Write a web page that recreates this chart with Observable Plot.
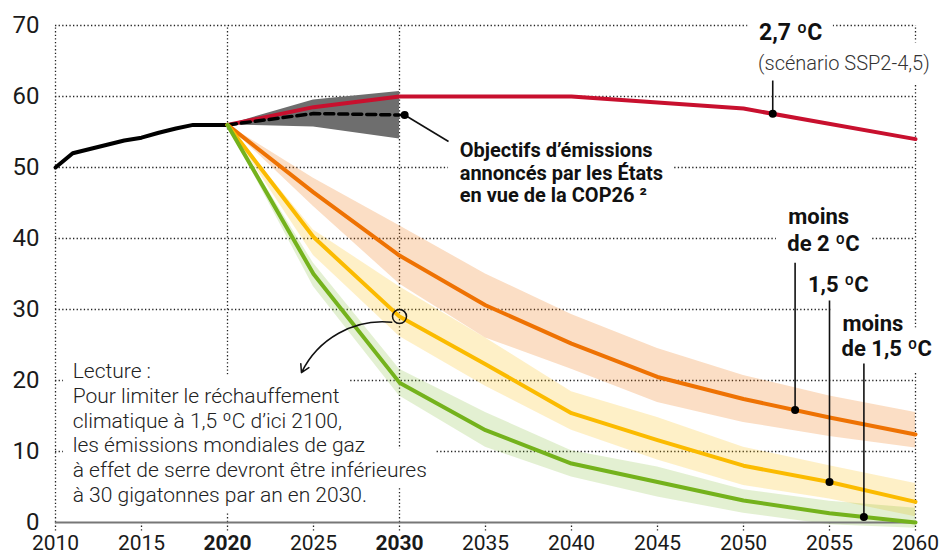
<!DOCTYPE html>
<html>
<head>
<meta charset="utf-8">
<script src="https://cdn.jsdelivr.net/npm/d3@7"></script>
<script src="https://cdn.jsdelivr.net/npm/@observablehq/plot@0.6"></script>
<style>
  html, body { margin: 0; padding: 0; background: #fff; }
  #chart { width: 943px; height: 554px; }
</style>
</head>
<body>
<div id="chart"></div>
<script>
// ---------- data ----------
const histYears = [2010, 2011, 2012, 2013, 2014, 2015, 2016, 2017, 2018, 2019, 2020];
const histValues = [50, 52, 52.6, 53.2, 53.8, 54.2, 54.9, 55.5, 56, 56, 56];

const sspYears = [2020, 2025, 2030, 2040, 2050, 2060];
const sspValues = [56, 58.5, 60, 60, 58.3, 54];

const ndcYears = [2020, 2025, 2030];
const ndcMid = [56, 57.6, 57.4];
const ndcLow = [56, 55.7, 54];
const ndcHigh = [56, 59.5, 60.7];

const pathYears = [2020, 2025, 2030, 2035, 2040, 2045, 2050, 2055, 2060];
const below2 = [56, 46.5, 37.6, 30.6, 25.2, 20.5, 17.4, 14.8, 12.4];
const below2Low = [56, 44.5, 33.6, 26, 21.6, 16.9, 14.1, 12.1, 10.5];
const below2High = [56, 48.5, 41.8, 35, 29.3, 24.5, 20.7, 17.8, 15.5];
const c15 = [56, 40.2, 29, 22.3, 15.4, 11.6, 8, 5.7, 2.9];
const c15Low = [56, 37.6, 26.2, 19.2, 13, 8.8, 5.2, 3.3, 0.8];
const c15High = [56, 41.2, 33.2, 26, 18.4, 14.8, 10.6, 8, 5.5];
const below15 = [56, 35, 19.7, 13, 8.3, 5.7, 3.1, 1.3, 0];
const below15Low = [56, 33.2, 17.8, 10.6, 6.4, 3.6, 1.3, -0.3, -0.8];
const below15High = [56, 36.5, 21.6, 15.5, 10.1, 7.8, 4.6, 3, 2];

const yTicks = [0, 10, 20, 30, 40, 50, 60, 70];
const xTicksNormal = [2010, 2015, 2025, 2035, 2040, 2045, 2050, 2055, 2060];
const xTicksBold = [2020, 2030];
const xGrid = [2010, 2020, 2030, 2060];
const xMinor = [2010, 2015, 2020, 2025, 2030, 2035, 2040, 2045, 2050, 2055, 2060];

// ---------- helpers ----------
const rows = (xs, ys, lo, hi) => xs.map((x, i) => ({x, y: ys[i], lo: lo ? lo[i] : null, hi: hi ? hi[i] : null}));
const interp = (xs, ys, t) => {
  for (let i = 0; i < xs.length - 1; i++) {
    if (t >= xs[i] && t <= xs[i + 1]) {
      const f = (t - xs[i]) / (xs[i + 1] - xs[i]);
      return ys[i] + f * (ys[i + 1] - ys[i]);
    }
  }
  return ys[ys.length - 1];
};

const hist = rows(histYears, histValues);
const ssp = rows(sspYears, sspValues);
const ndc = rows(ndcYears, ndcMid, ndcLow, ndcHigh);
const p2 = rows(pathYears, below2, below2Low, below2High);
const p15 = rows(pathYears, c15, c15Low, c15High);
const pb15 = rows(pathYears, below15, below15Low, below15High);

// colors
const RED = "#c8102e", ORANGE = "#ee7203", YELLOW = "#fbbb00", GREEN = "#74b21c", GRAY = "#6e6e6e";

// annotation labels (data units)
const boldLabels = [
  {x: 2052.6, y: 43.06, text: "moins"},
  {x: 2052.55, y: 39.3, text: "de 2 ºC"},
  {x: 2053.75, y: 33.4, text: "1,5 ºC"},
  {x: 2055.75, y: 28.0, text: "moins"},
  {x: 2055.7, y: 24.4, text: "de 1,5 ºC"}
];
const titleLabel = [{x: 2050.9, y: 68.93, text: "2,7 ºC"}];
const sspLabel = [{x: 2050.85, y: 64.7, text: "(scénario SSP2-4,5)"}];
const ndcLabel = [{x: 2033.5, y: 53.67, text: "Objectifs d’émissions\nannoncés par les États\nen vue de la COP26 ²"}];
const readingLabel = [{x: 2011.0, y: 22.8, text: "Lecture :\nPour limiter le réchauffement\nclimatique à 1,5 ºC d’ici 2100,\nles émissions mondiales de gaz\nà effet de serre devront être inférieures\nà 30 gigatonnes par an en 2030."}];

const leaders = [
  {x: 2051.7, top: 62.25, bottom: interp(sspYears, sspValues, 2051.7)},
  {x: 2053.0, top: 36.6, bottom: interp(pathYears, below2, 2053.0)},
  {x: 2055.0, top: 31.27, bottom: interp(pathYears, c15, 2055.0)},
  {x: 2057.0, top: 22.4, bottom: interp(pathYears, below15, 2057.0)}
];
const ndcLeader = [{x1: 2030.3, y1: interp(ndcYears, ndcMid, 2030), x2: 2032.85, y2: 53.66}];
const readCircle = [{x: 2030, y: c15[2]}];
const readArrow = [{x1: 2029.55, y1: 28.2, x2: 2024.3, y2: 21.1}];

const FONT = "Roboto, 'Open Sans', 'Liberation Sans', sans-serif";
const dotted = {stroke: "#222", strokeWidth: 1.3, strokeDasharray: "1.3,2.3"};
const NDC_SIZE = 20, NDC_LH = 1.12;

// ---------- white knock-out boxes behind labels (hide the dotted grid like the original) ----------
const W = 943, H = 554, ML = 55, MR = 28, MT = 25, MB = 32;
const sx = Plot.scale({x: {domain: [2010, 2060], range: [ML, W - MR]}});
const sy = Plot.scale({y: {domain: [0, 70], range: [H - MB, MT]}});
const ctx = document.createElement("canvas").getContext("2d");
function knockouts(labels, size, weight, anchor, lh, pad) {
  const out = [];
  ctx.font = `${weight} ${size}px ${FONT}`;
  for (const d of labels) {
    const X = sx.apply(d.x), Y = sy.apply(d.y);
    d.text.split("\n").forEach((t, i) => {
      const base = anchor === "top" ? Y + 0.71 * size + i * lh * size : Y + 0.32 * size;
      const w = ctx.measureText(t).width;
      out.push({
        x1: sx.invert(X - pad), x2: sx.invert(X + w + pad),
        y1: sy.invert(base + 0.22 * size + pad), y2: sy.invert(base - 0.78 * size - pad)
      });
    });
  }
  return out;
}
const boxes = [
  ...knockouts(titleLabel, 23, 700, "middle", 1, 11),
  ...knockouts(sspLabel, 20, 300, "middle", 1, 11),
  ...knockouts(boldLabels, 22, 700, "middle", 1, 11),
  ...knockouts(ndcLabel, NDC_SIZE, 700, "top", NDC_LH, 11),
  ...knockouts(readingLabel, 21, 300, "top", 1.176, 9)
];

const chart = Plot.plot({
  width: W,
  height: H,
  marginLeft: ML,
  marginRight: MR,
  marginTop: MT,
  marginBottom: MB,
  style: {fontFamily: FONT, background: "white", overflow: "visible", color: "#1a1a1a"},
  x: {domain: [2010, 2060], label: null},
  y: {domain: [0, 70], label: null},
  marks: [
    // grid
    Plot.ruleY(yTicks.filter(d => d > 0), {x1: 2010, x2: 2060, ...dotted}),
    Plot.ruleX(xGrid, {y1: 0, y2: 70, ...dotted}),
    Plot.ruleX(xMinor, {y1: 0, y2: -1.35, ...dotted}),

    // knock-outs
    Plot.rect(boxes, {x1: "x1", x2: "x2", y1: "y1", y2: "y2", fill: "white"}),

    // uncertainty bands
    Plot.areaY(p2, {x: "x", y1: "lo", y2: "hi", fill: ORANGE, fillOpacity: 0.23}),
    Plot.areaY(p15, {x: "x", y1: "lo", y2: "hi", fill: YELLOW, fillOpacity: 0.22}),
    Plot.areaY(pb15, {x: "x", y1: "lo", y2: "hi", fill: GREEN, fillOpacity: 0.2}),
    Plot.areaY(ndc, {x: "x", y1: "lo", y2: "hi", fill: GRAY}),

    // zero axis line
    Plot.ruleY([0], {x1: 2010, x2: 2060, stroke: "#777", strokeWidth: 2}),

    // lines
    Plot.line(hist, {x: "x", y: "y", stroke: "#000", strokeWidth: 4, strokeLinejoin: "round"}),
    Plot.line(ssp, {x: "x", y: "y", stroke: RED, strokeWidth: 4, strokeLinejoin: "round"}),
    Plot.line(ndc, {x: "x", y: "y", stroke: "#000", strokeWidth: 3.5, strokeDasharray: "9,5"}),
    Plot.line(p2, {x: "x", y: "y", stroke: ORANGE, strokeWidth: 4, strokeLinejoin: "round"}),
    Plot.line(p15, {x: "x", y: "y", stroke: YELLOW, strokeWidth: 4, strokeLinejoin: "round"}),
    Plot.line(pb15, {x: "x", y: "y", stroke: GREEN, strokeWidth: 4, strokeLinejoin: "round"}),

    // leaders
    Plot.link(leaders, {x1: "x", x2: "x", y1: "top", y2: "bottom", stroke: "#111", strokeWidth: 1.6}),
    Plot.dot(leaders, {x: "x", y: "bottom", r: 4, fill: "#000"}),
    Plot.link(ndcLeader, {x1: "x1", y1: "y1", x2: "x2", y2: "y2", stroke: "#111", strokeWidth: 1.6}),
    Plot.dot(ndcLeader, {x: "x1", y: "y1", r: 4, fill: "#000"}),

    // reading example
    Plot.dot(readCircle, {x: "x", y: "y", r: 7, stroke: "#111", strokeWidth: 1.5, fill: "none"}),
    Plot.arrow(readArrow, {x1: "x1", y1: "y1", x2: "x2", y2: "y2", bend: -35, stroke: "#111", strokeWidth: 1.5, headLength: 9}),

    // texts
    Plot.text(titleLabel, {x: "x", y: "y", text: "text", textAnchor: "start", fontSize: 23, fontWeight: 700, fill: "#111"}),
    Plot.text(sspLabel, {x: "x", y: "y", text: "text", textAnchor: "start", fontSize: 20, fontWeight: 300, fill: "#333"}),
    Plot.text(boldLabels, {x: "x", y: "y", text: "text", textAnchor: "start", fontSize: 22, fontWeight: 700, fill: "#111"}),
    Plot.text(ndcLabel, {x: "x", y: "y", text: "text", textAnchor: "start", fontSize: NDC_SIZE, fontWeight: 700, fill: "#111", lineAnchor: "top", lineHeight: NDC_LH}),
    Plot.text(readingLabel, {x: "x", y: "y", text: "text", textAnchor: "start", fontSize: 21, fontWeight: 300, fill: "#222", lineAnchor: "top", lineHeight: 1.176}),

    // axes
    Plot.axisY(yTicks, {tickSize: 0, tickPadding: 16, fontSize: 24, label: null}),
    Plot.axisX(xTicksNormal, {tickSize: 0, tickPadding: 13, fontSize: 21, label: null, tickFormat: "d"}),
    Plot.axisX(xTicksBold, {tickSize: 0, tickPadding: 13, fontSize: 21, fontWeight: 700, label: null, tickFormat: "d"})
  ]
});
document.getElementById("chart").appendChild(chart);
</script>
</body>
</html>
